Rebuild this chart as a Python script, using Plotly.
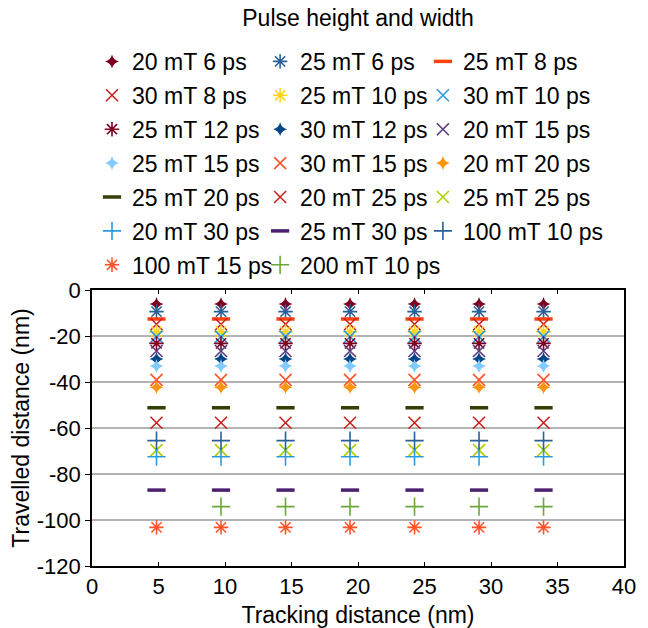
import plotly.graph_objects as go

# Track positions along the strip (nm)
tracking = [4.85, 9.7, 14.55, 19.4, 24.25, 29.1, 33.95]

# Axis tick values and their labels
x_ticks = [0, 5, 10, 15, 20, 25, 30, 35, 40]
y_ticks = [0, -20, -40, -60, -80, -100, -120]
y_tick_labels = ["0", "-20", "-40", "-60", "-80", "-100", "-120"]

# Series labels and travelled distance per series (nm)
labels = [
    "20 mT 6 ps", "25 mT 6 ps", "25 mT 8 ps",
    "30 mT 8 ps", "25 mT 10 ps", "30 mT 10 ps",
    "25 mT 12 ps", "30 mT 12 ps", "20 mT 15 ps",
    "25 mT 15 ps", "30 mT 15 ps", "20 mT 20 ps",
    "25 mT 20 ps", "20 mT 25 ps", "25 mT 25 ps",
    "20 mT 30 ps", "25 mT 30 ps", "100 mT 10 ps",
    "100 mT 15 ps", "200 mT 10 ps",
]
travelled = [
    -6.1, -9.4, -12.6,
    -14.9, -18.1, -20.3,
    -23.2, -30.0, -26.5,
    -33.0, -39.1, -42.3,
    -51.2, -57.7, -69.6,
    -72.5, -87.0, -65.5,
    -103.2, -94.2,
]
# 200 mT 10 ps has no point on the first track
first_track_missing = ["200 mT 10 ps"]

symbols = [
    "star", "asterisk", "dash",
    "x", "asterisk", "x",
    "asterisk", "star", "x",
    "star", "x", "star",
    "dash", "x", "x",
    "plus", "dash", "plus",
    "asterisk", "plus",
]
colors = [
    "#7e0021", "#2a6099", "#ff420e",
    "#c9211e", "#ffd320", "#2a9be0",
    "#7e0021", "#004586", "#5c3a7e",
    "#83caff", "#ff5429", "#ff950e",
    "#314004", "#c9211e", "#aecf00",
    "#2a9be0", "#4b1f6f", "#2a6099",
    "#ff5429", "#6aa83a",
]

# legend column for each series (three stacked legends)
columns = [
    "legend", "legend2", "legend3",
    "legend", "legend2", "legend3",
    "legend", "legend2", "legend3",
    "legend", "legend2", "legend3",
    "legend", "legend2", "legend3",
    "legend", "legend2", "legend3",
    "legend", "legend2",
]

FONT = "Liberation Sans, Arial, sans-serif"


def marker_style(kind, color):
    if kind == "star":
        return dict(symbol="star-diamond", size=10, color=color,
                    line=dict(width=0))
    if kind == "asterisk":
        return dict(symbol="asterisk", size=12, color=color,
                    line=dict(width=1.6, color=color))
    if kind == "dash":
        return dict(symbol="line-ew", size=13, color=color,
                    line=dict(width=3.5, color=color))
    if kind == "x":
        return dict(symbol="x-thin", size=12, color=color,
                    line=dict(width=1.6, color=color))
    return dict(symbol="cross-thin", size=13, color=color,
                line=dict(width=1.6, color=color))


fig = go.Figure()
for name, yv, kind, col, leg in zip(labels, travelled, symbols, colors, columns):
    xs = list(tracking)
    if name in first_track_missing:
        xs = xs[1:]
    fig.add_trace(go.Scatter(
        x=xs, y=[yv] * len(xs), mode="markers", name=name,
        marker=marker_style(kind, col), legend=leg, legendgroup=name,
        hoverinfo="x+y+name",
    ))

legend_common = dict(
    orientation="v", yanchor="top", y=1.906, xanchor="left",
    font=dict(family=FONT, size=23, color="#000000"),
    bgcolor="rgba(0,0,0,0)", borderwidth=0, tracegroupgap=1,
    itemsizing="trace",
)

fig.update_layout(
    width=648, height=628,
    margin=dict(l=92, r=24, t=290, b=62, autoexpand=False),
    paper_bgcolor="white", plot_bgcolor="white",
    font=dict(family=FONT, size=22, color="#000000"),
    title=dict(text="Pulse height and width", x=0.5, xref="paper",
               xanchor="center", y=0.972, yanchor="middle",
               font=dict(family=FONT, size=23, color="#000000")),
    legend=dict(legend_common, x=0.0),
    legend2=dict(legend_common, x=0.316),
    legend3=dict(legend_common, x=0.622),
    showlegend=True,
)

fig.update_xaxes(
    range=[0, 40], tickvals=x_ticks, automargin=False,
    showline=True, linecolor="#000000", linewidth=1.5, mirror="ticks",
    ticks="inside", ticklen=4, tickcolor="#000000",
    showgrid=False, zeroline=False,
    tickfont=dict(family=FONT, size=22, color="#000000"),
    title=dict(text="Tracking distance (nm)", standoff=10,
               font=dict(family=FONT, size=23, color="#000000")),
)
fig.update_yaxes(
    range=[-120, 0], tickvals=y_ticks, ticktext=y_tick_labels,
    automargin=False,
    showline=True, linecolor="#000000", linewidth=1.5, mirror=True,
    ticks="outside", ticklen=5, tickcolor="#000000",
    showgrid=True, gridcolor="#b3b3b3", gridwidth=1.5, zeroline=False,
    tickfont=dict(family=FONT, size=22, color="#000000"),
    title=dict(text="Travelled distance (nm)", standoff=1,
               font=dict(family=FONT, size=23, color="#000000")),
)

fig.write_html("out.html")
